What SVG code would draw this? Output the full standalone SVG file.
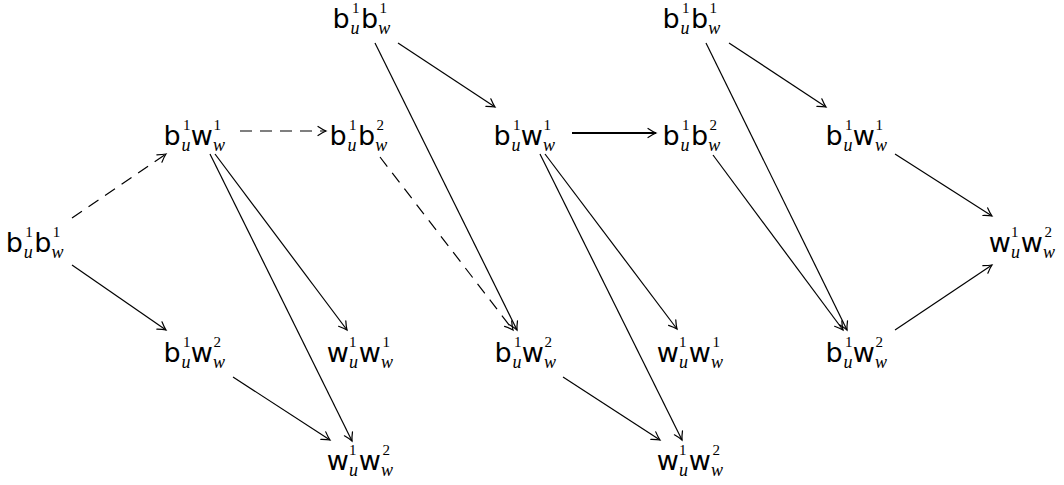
<svg xmlns="http://www.w3.org/2000/svg" width="1064" height="485" viewBox="0 0 1064 485">
<style>
text{font-family:"DejaVu Sans",sans-serif;fill:#000}
.m{font-family:"DejaVu Sans",sans-serif;font-size:27px}
.p{font-family:"Liberation Serif",serif;font-size:15px}
.i{font-family:"Liberation Serif",serif;font-style:italic;font-size:18px}
.e{fill:none;stroke:#000;stroke-width:1.2;marker-end:url(#ar)}
.d{stroke-dasharray:12 8}
.t{stroke-width:2}
</style>
<defs>
<marker id="ar" markerUnits="userSpaceOnUse" markerWidth="10" markerHeight="10" refX="0" refY="0" orient="auto" overflow="visible">
<path d="M-8,-4.5 C-5,-2.5 -2,-0.8 0,0 C-2,0.8 -5,2.5 -8,4.5" fill="none" stroke="#000" stroke-width="1.2" stroke-linecap="round"/>
</marker>
</defs>
<g id="connectors">
<path class="e d" d="M72,218 L166,154"/>
<path class="e" d="M72,265 L166,330"/>
<path class="e d" d="M240,131 L326,131"/>
<path class="e" d="M215,154 L347,330"/>
<path class="e" d="M210,154 L352,441"/>
<path class="e" d="M233,377 L330,440"/>
<path class="e d" d="M380,157 L513,330"/>
<path class="e" d="M398,43 L495,107"/>
<path class="e" d="M375,43 L517,330"/>
<path class="e t" d="M572,133 L656,133"/>
<path class="e" d="M545,154 L677,329"/>
<path class="e" d="M540,154 L682,440"/>
<path class="e" d="M563,377 L660,440"/>
<path class="e" d="M729,43 L826,107"/>
<path class="e" d="M706,43 L847,330"/>
<path class="e" d="M713,155 L843,330"/>
<path class="e" d="M895,154 L992,216"/>
<path class="e" d="M895,330 L992,265"/>
</g>
<g id="L0" transform="translate(8.3,252)"><text><tspan class="m" x="-2.5" y="0">b</tspan><tspan class="p" x="17" y="-15">1</tspan><tspan class="i" x="15.5" y="5.5">u</tspan><tspan class="m" x="26" y="0">b</tspan><tspan class="p" x="44.5" y="-15">1</tspan><tspan class="i" x="43.2" y="5.5">w</tspan></text></g>
<g id="A1" transform="translate(166,145)"><text><tspan class="m" x="-2.5" y="0">b</tspan><tspan class="p" x="17" y="-15">1</tspan><tspan class="i" x="15.5" y="5.5">u</tspan><tspan class="m" x="24.8" y="0">w</tspan><tspan class="p" x="47.5" y="-15">1</tspan><tspan class="i" x="47" y="5.5">w</tspan></text></g>
<g id="A2" transform="translate(332,145)"><text><tspan class="m" x="-2.5" y="0">b</tspan><tspan class="p" x="17" y="-15">1</tspan><tspan class="i" x="15.5" y="5.5">u</tspan><tspan class="m" x="26" y="0">b</tspan><tspan class="p" x="44.5" y="-15">2</tspan><tspan class="i" x="43.2" y="5.5">w</tspan></text></g>
<g id="A3" transform="translate(166,362)"><text><tspan class="m" x="-2.5" y="0">b</tspan><tspan class="p" x="17" y="-15">1</tspan><tspan class="i" x="15.5" y="5.5">u</tspan><tspan class="m" x="24.8" y="0">w</tspan><tspan class="p" x="47.5" y="-15">2</tspan><tspan class="i" x="47" y="5.5">w</tspan></text></g>
<g id="A4" transform="translate(328,362)"><text><tspan class="m" x="-1.2" y="0">w</tspan><tspan class="p" x="21" y="-15">1</tspan><tspan class="i" x="21" y="5.5">u</tspan><tspan class="m" x="30.8" y="0">w</tspan><tspan class="p" x="54.5" y="-15">1</tspan><tspan class="i" x="53" y="5.5">w</tspan></text></g>
<g id="A5" transform="translate(328,470)"><text><tspan class="m" x="-1.2" y="0">w</tspan><tspan class="p" x="21" y="-15">1</tspan><tspan class="i" x="21" y="5.5">u</tspan><tspan class="m" x="30.8" y="0">w</tspan><tspan class="p" x="54.5" y="-15">2</tspan><tspan class="i" x="53" y="5.5">w</tspan></text></g>
<g id="B0" transform="translate(335,28)"><text><tspan class="m" x="-2.5" y="0">b</tspan><tspan class="p" x="17" y="-15">1</tspan><tspan class="i" x="15.5" y="5.5">u</tspan><tspan class="m" x="26" y="0">b</tspan><tspan class="p" x="44.5" y="-15">1</tspan><tspan class="i" x="43.2" y="5.5">w</tspan></text></g>
<g id="B1" transform="translate(496,145)"><text><tspan class="m" x="-2.5" y="0">b</tspan><tspan class="p" x="17" y="-15">1</tspan><tspan class="i" x="15.5" y="5.5">u</tspan><tspan class="m" x="24.8" y="0">w</tspan><tspan class="p" x="47.5" y="-15">1</tspan><tspan class="i" x="47" y="5.5">w</tspan></text></g>
<g id="B2" transform="translate(665,145)"><text><tspan class="m" x="-2.5" y="0">b</tspan><tspan class="p" x="17" y="-15">1</tspan><tspan class="i" x="15.5" y="5.5">u</tspan><tspan class="m" x="26" y="0">b</tspan><tspan class="p" x="44.5" y="-15">2</tspan><tspan class="i" x="43.2" y="5.5">w</tspan></text></g>
<g id="B3" transform="translate(497,362)"><text><tspan class="m" x="-2.5" y="0">b</tspan><tspan class="p" x="17" y="-15">1</tspan><tspan class="i" x="15.5" y="5.5">u</tspan><tspan class="m" x="24.8" y="0">w</tspan><tspan class="p" x="47.5" y="-15">2</tspan><tspan class="i" x="47" y="5.5">w</tspan></text></g>
<g id="B4" transform="translate(658,362)"><text><tspan class="m" x="-1.2" y="0">w</tspan><tspan class="p" x="21" y="-15">1</tspan><tspan class="i" x="21" y="5.5">u</tspan><tspan class="m" x="30.8" y="0">w</tspan><tspan class="p" x="54.5" y="-15">1</tspan><tspan class="i" x="53" y="5.5">w</tspan></text></g>
<g id="B5" transform="translate(658,470)"><text><tspan class="m" x="-1.2" y="0">w</tspan><tspan class="p" x="21" y="-15">1</tspan><tspan class="i" x="21" y="5.5">u</tspan><tspan class="m" x="30.8" y="0">w</tspan><tspan class="p" x="54.5" y="-15">2</tspan><tspan class="i" x="53" y="5.5">w</tspan></text></g>
<g id="C0" transform="translate(665,28)"><text><tspan class="m" x="-2.5" y="0">b</tspan><tspan class="p" x="17" y="-15">1</tspan><tspan class="i" x="15.5" y="5.5">u</tspan><tspan class="m" x="26" y="0">b</tspan><tspan class="p" x="44.5" y="-15">1</tspan><tspan class="i" x="43.2" y="5.5">w</tspan></text></g>
<g id="C1" transform="translate(828,145)"><text><tspan class="m" x="-2.5" y="0">b</tspan><tspan class="p" x="17" y="-15">1</tspan><tspan class="i" x="15.5" y="5.5">u</tspan><tspan class="m" x="24.8" y="0">w</tspan><tspan class="p" x="47.5" y="-15">1</tspan><tspan class="i" x="47" y="5.5">w</tspan></text></g>
<g id="C2" transform="translate(828,362)"><text><tspan class="m" x="-2.5" y="0">b</tspan><tspan class="p" x="17" y="-15">1</tspan><tspan class="i" x="15.5" y="5.5">u</tspan><tspan class="m" x="24.8" y="0">w</tspan><tspan class="p" x="47.5" y="-15">2</tspan><tspan class="i" x="47" y="5.5">w</tspan></text></g>
<g id="C3" transform="translate(990,252)"><text><tspan class="m" x="-1.2" y="0">w</tspan><tspan class="p" x="21" y="-15">1</tspan><tspan class="i" x="21" y="5.5">u</tspan><tspan class="m" x="30.8" y="0">w</tspan><tspan class="p" x="54.5" y="-15">2</tspan><tspan class="i" x="53" y="5.5">w</tspan></text></g>
</svg>
